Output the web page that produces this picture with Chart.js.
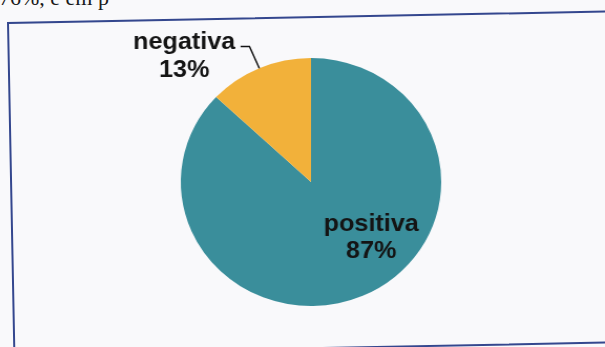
<!DOCTYPE html>
<html>
<head>
<meta charset="utf-8">
<script src="https://cdn.jsdelivr.net/npm/chart.js@4.4.1/dist/chart.umd.min.js"></script>
<style>
  html, body { margin: 0; padding: 0; }
  body {
    width: 605px; height: 347px; overflow: hidden; position: relative;
    background: #f9f9fb;
  }
  /* line of body text above the figure, cut off by the page edge */
  #textline {
    position: absolute; left: -1px; top: -15px;
    font: 22px "Liberation Serif", "DejaVu Serif", serif;
    color: #1a1a1a; white-space: nowrap;
  }
  #frame {
    position: absolute; left: 7px; top: 22px;
    width: 640px; height: 329px;
    border: 2px solid #34478e;
    transform-origin: 0 0;
    transform: rotate(-1.1deg);
  }
  #wrap {
    position: absolute; left: 0; top: 0; width: 605px; height: 347px;
    transform-origin: 311px 0;
    transform: scaleX(1.05);
  }
</style>
</head>
<body>
<div id="textline">76%, e em p</div>
<div id="frame"></div>
<div id="wrap"><canvas id="chartPie" width="605" height="347"></canvas></div>
<script>
// Avaliação: positiva x negativa
const labels = ['positiva', 'negativa'];
const values = [87, 13];
const colors = ['#3a8e9b', '#f2b13a'];

const total = values.reduce((a, b) => a + b, 0);
const percents = values.map(v => Math.round(v / total * 100));

// rótulos: o maior dentro da fatia, o menor fora com linha de chamada
const sliceLabels = {
    id: 'sliceLabels',
    afterDatasetsDraw(chart) {
        const ctx = chart.ctx;
        const arcs = chart.getDatasetMeta(0).data;
        ctx.save();
        ctx.font = 'bold 24px "Liberation Sans", Arial, sans-serif';
        ctx.fillStyle = '#141414';
        ctx.strokeStyle = '#141414';
        ctx.textAlign = 'center';
        ctx.textBaseline = 'alphabetic';

        arcs.forEach((arc, i) => {
            const { x, y, startAngle, endAngle, outerRadius } =
                arc.getProps(['x', 'y', 'startAngle', 'endAngle', 'outerRadius'], true);
            const lines = [labels[i], percents[i] + '%'];

            if (i === 0) {
                const a = startAngle + 0.424 * (endAngle - startAngle);
                const px = x + Math.cos(a) * outerRadius * 0.63;
                const py = y + Math.sin(a) * outerRadius * 0.63;
                ctx.fillText(lines[0], px, py - 4);
                ctx.fillText(lines[1], px, py + 22.5);
            } else {
                const a = (startAngle + endAngle) / 2;
                const edge = { x: x + Math.cos(a) * outerRadius, y: y + Math.sin(a) * outerRadius };
                const elbow = { x: x + Math.cos(a) * outerRadius * 1.19, y: y + Math.sin(a) * outerRadius * 1.19 };
                const end = { x: elbow.x - 8.5, y: elbow.y };

                ctx.lineWidth = 1.5;
                ctx.beginPath();
                ctx.moveTo(edge.x, edge.y);
                ctx.lineTo(elbow.x, elbow.y);
                ctx.lineTo(end.x, end.y);
                ctx.stroke();

                const w = Math.max(...lines.map(l => ctx.measureText(l).width));
                const tx = end.x - 5 - w / 2;
                ctx.fillText(lines[0], tx, elbow.y + 2);
                ctx.fillText(lines[1], tx, elbow.y + 30);
            }
        });
        ctx.restore();
    }
};

new Chart(document.getElementById('chartPie'), {
    type: 'pie',
    data: {
        labels: labels,
        datasets: [{
            data: values,
            backgroundColor: colors,
            borderWidth: 0,
            hoverBorderWidth: 0,
            hoverOffset: 0
        }]
    },
    options: {
        responsive: false,
        animation: false,
        layout: { padding: { left: 187, right: 170, top: 58, bottom: 41 } },
        plugins: {
            legend: { display: false },
            tooltip: { enabled: false }
        }
    },
    plugins: [sliceLabels]
});
</script>
</body>
</html>
